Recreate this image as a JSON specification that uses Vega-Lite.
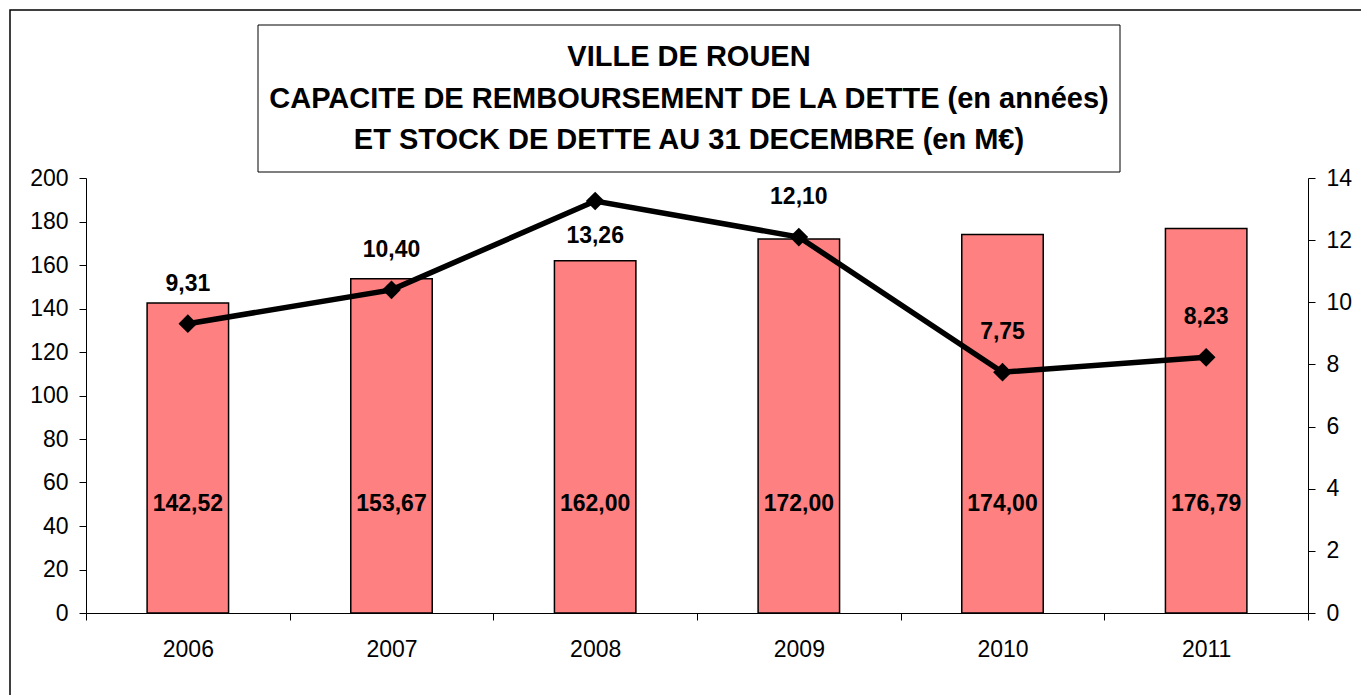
{
  "$schema": "https://vega.github.io/schema/vega-lite/v6.json",
  "width": 1352,
  "height": 686,
  "autosize": {"type": "none"},
  "padding": {"left": 10, "top": 10, "right": 0, "bottom": 0},
  "background": "white",
  "config": {
    "view": {"stroke": "black", "strokeWidth": 1.5},
    "font": "Liberation Sans",
    "locale": {"number": {"decimal": ",", "thousands": " ", "grouping": [3], "currency": ["", " €"]}},
    "axis": {"domainColor": "black", "tickColor": "black", "labelColor": "black", "labelFont": "Liberation Sans", "labelFontSize": 23, "grid": false, "domainWidth": 1, "tickWidth": 1}
  },
  "data": {"values": [
    {"annee": "2006", "dette": 142.52, "capacite": 9.31},
    {"annee": "2007", "dette": 153.67, "capacite": 10.40},
    {"annee": "2008", "dette": 162.00, "capacite": 13.26},
    {"annee": "2009", "dette": 172.00, "capacite": 12.10},
    {"annee": "2010", "dette": 174.00, "capacite": 7.75},
    {"annee": "2011", "dette": 176.79, "capacite": 8.23}
  ]},
  "layer": [
    {
      "encoding": {
        "x": {"field": "annee", "type": "ordinal",
          "scale": {"range": [76, 1298], "paddingInner": 0, "paddingOuter": 0},
          "axis": {"orient": "bottom", "offset": -83, "tickBand": "extent", "tickSize": 7, "labelPadding": 18, "labelAngle": 0, "title": null}}
      },
      "layer": [
        {
          "layer": [
            {
              "mark": {"type": "bar", "width": {"band": 0.4}, "fill": "#FF8080", "stroke": "black", "strokeWidth": 1.5},
              "encoding": {
                "y": {"field": "dette", "type": "quantitative",
                  "scale": {"domain": [0, 200], "range": [603, 168]},
                  "axis": {"orient": "left", "offset": -76, "values": [0, 20, 40, 60, 80, 100, 120, 140, 160, 180, 200], "tickSize": 7, "labelPadding": 11, "title": null, "format": "d"}}
              }
            },
            {
              "mark": {"type": "text", "fontSize": 23, "fontWeight": "bold", "align": "center", "baseline": "middle", "color": "black"},
              "encoding": {
                "y": {"datum": 50, "type": "quantitative",
                  "axis": {"orient": "left", "offset": -76, "values": [0, 20, 40, 60, 80, 100, 120, 140, 160, 180, 200], "tickSize": 7, "labelPadding": 11, "title": null, "format": "d"}},
                "text": {"field": "dette", "type": "quantitative", "format": ".2f"}
              }
            }
          ]
        },
        {
          "encoding": {
            "y": {"field": "capacite", "type": "quantitative",
              "scale": {"domain": [0, 14], "range": [603, 168]},
              "axis": {"orient": "right", "offset": -54, "values": [0, 2, 4, 6, 8, 10, 12, 14], "tickSize": 7, "labelPadding": 11, "title": null, "format": "d"}}
          },
          "layer": [
            {"mark": {"type": "line", "color": "black", "strokeWidth": 5.5}, "encoding": {}},
            {"mark": {"type": "point", "shape": "diamond", "filled": true, "color": "black", "size": 350, "opacity": 1}, "encoding": {}},
            {
              "transform": [{"filter": "datum.capacite <= 13"}],
              "mark": {"type": "text", "fontSize": 23, "fontWeight": "bold", "align": "center", "baseline": "middle", "dy": -40, "color": "black"},
              "encoding": {"text": {"field": "capacite", "type": "quantitative", "format": ".2f"}}
            },
            {
              "transform": [{"filter": "datum.capacite > 13"}],
              "mark": {"type": "text", "fontSize": 23, "fontWeight": "bold", "align": "center", "baseline": "middle", "dy": 35, "color": "black"},
              "encoding": {"text": {"field": "capacite", "type": "quantitative", "format": ".2f"}}
            }
          ]
        }
      ],
      "resolve": {"scale": {"y": "independent"}}
    },
    {
      "data": {"values": [{"cadre": "titre"}]},
      "layer": [
        {
          "mark": {"type": "rect", "fill": "white", "stroke": "black", "strokeWidth": 1},
          "encoding": {
            "x": {"datum": 0, "type": "quantitative", "scale": {"domain": [0, 1], "range": [248, 1110]}, "axis": null},
            "x2": {"datum": 1},
            "y": {"datum": 0, "type": "quantitative", "scale": {"domain": [0, 1], "range": [162, 15]}, "axis": null},
            "y2": {"datum": 1}
          }
        },
        {
          "mark": {"type": "text", "text": ["VILLE DE ROUEN", "CAPACITE DE REMBOURSEMENT DE LA DETTE (en années)", "ET STOCK DE DETTE AU 31 DECEMBRE (en M€)"], "fontSize": 29, "fontWeight": "bold", "lineHeight": 41.5, "align": "center", "baseline": "middle", "color": "black"},
          "encoding": {
            "x": {"datum": 0.5, "type": "quantitative", "axis": null},
            "y": {"datum": 0.7823, "type": "quantitative", "axis": null}
          }
        }
      ]
    }
  ],
  "resolve": {"scale": {"x": "independent", "y": "independent"}}
}
